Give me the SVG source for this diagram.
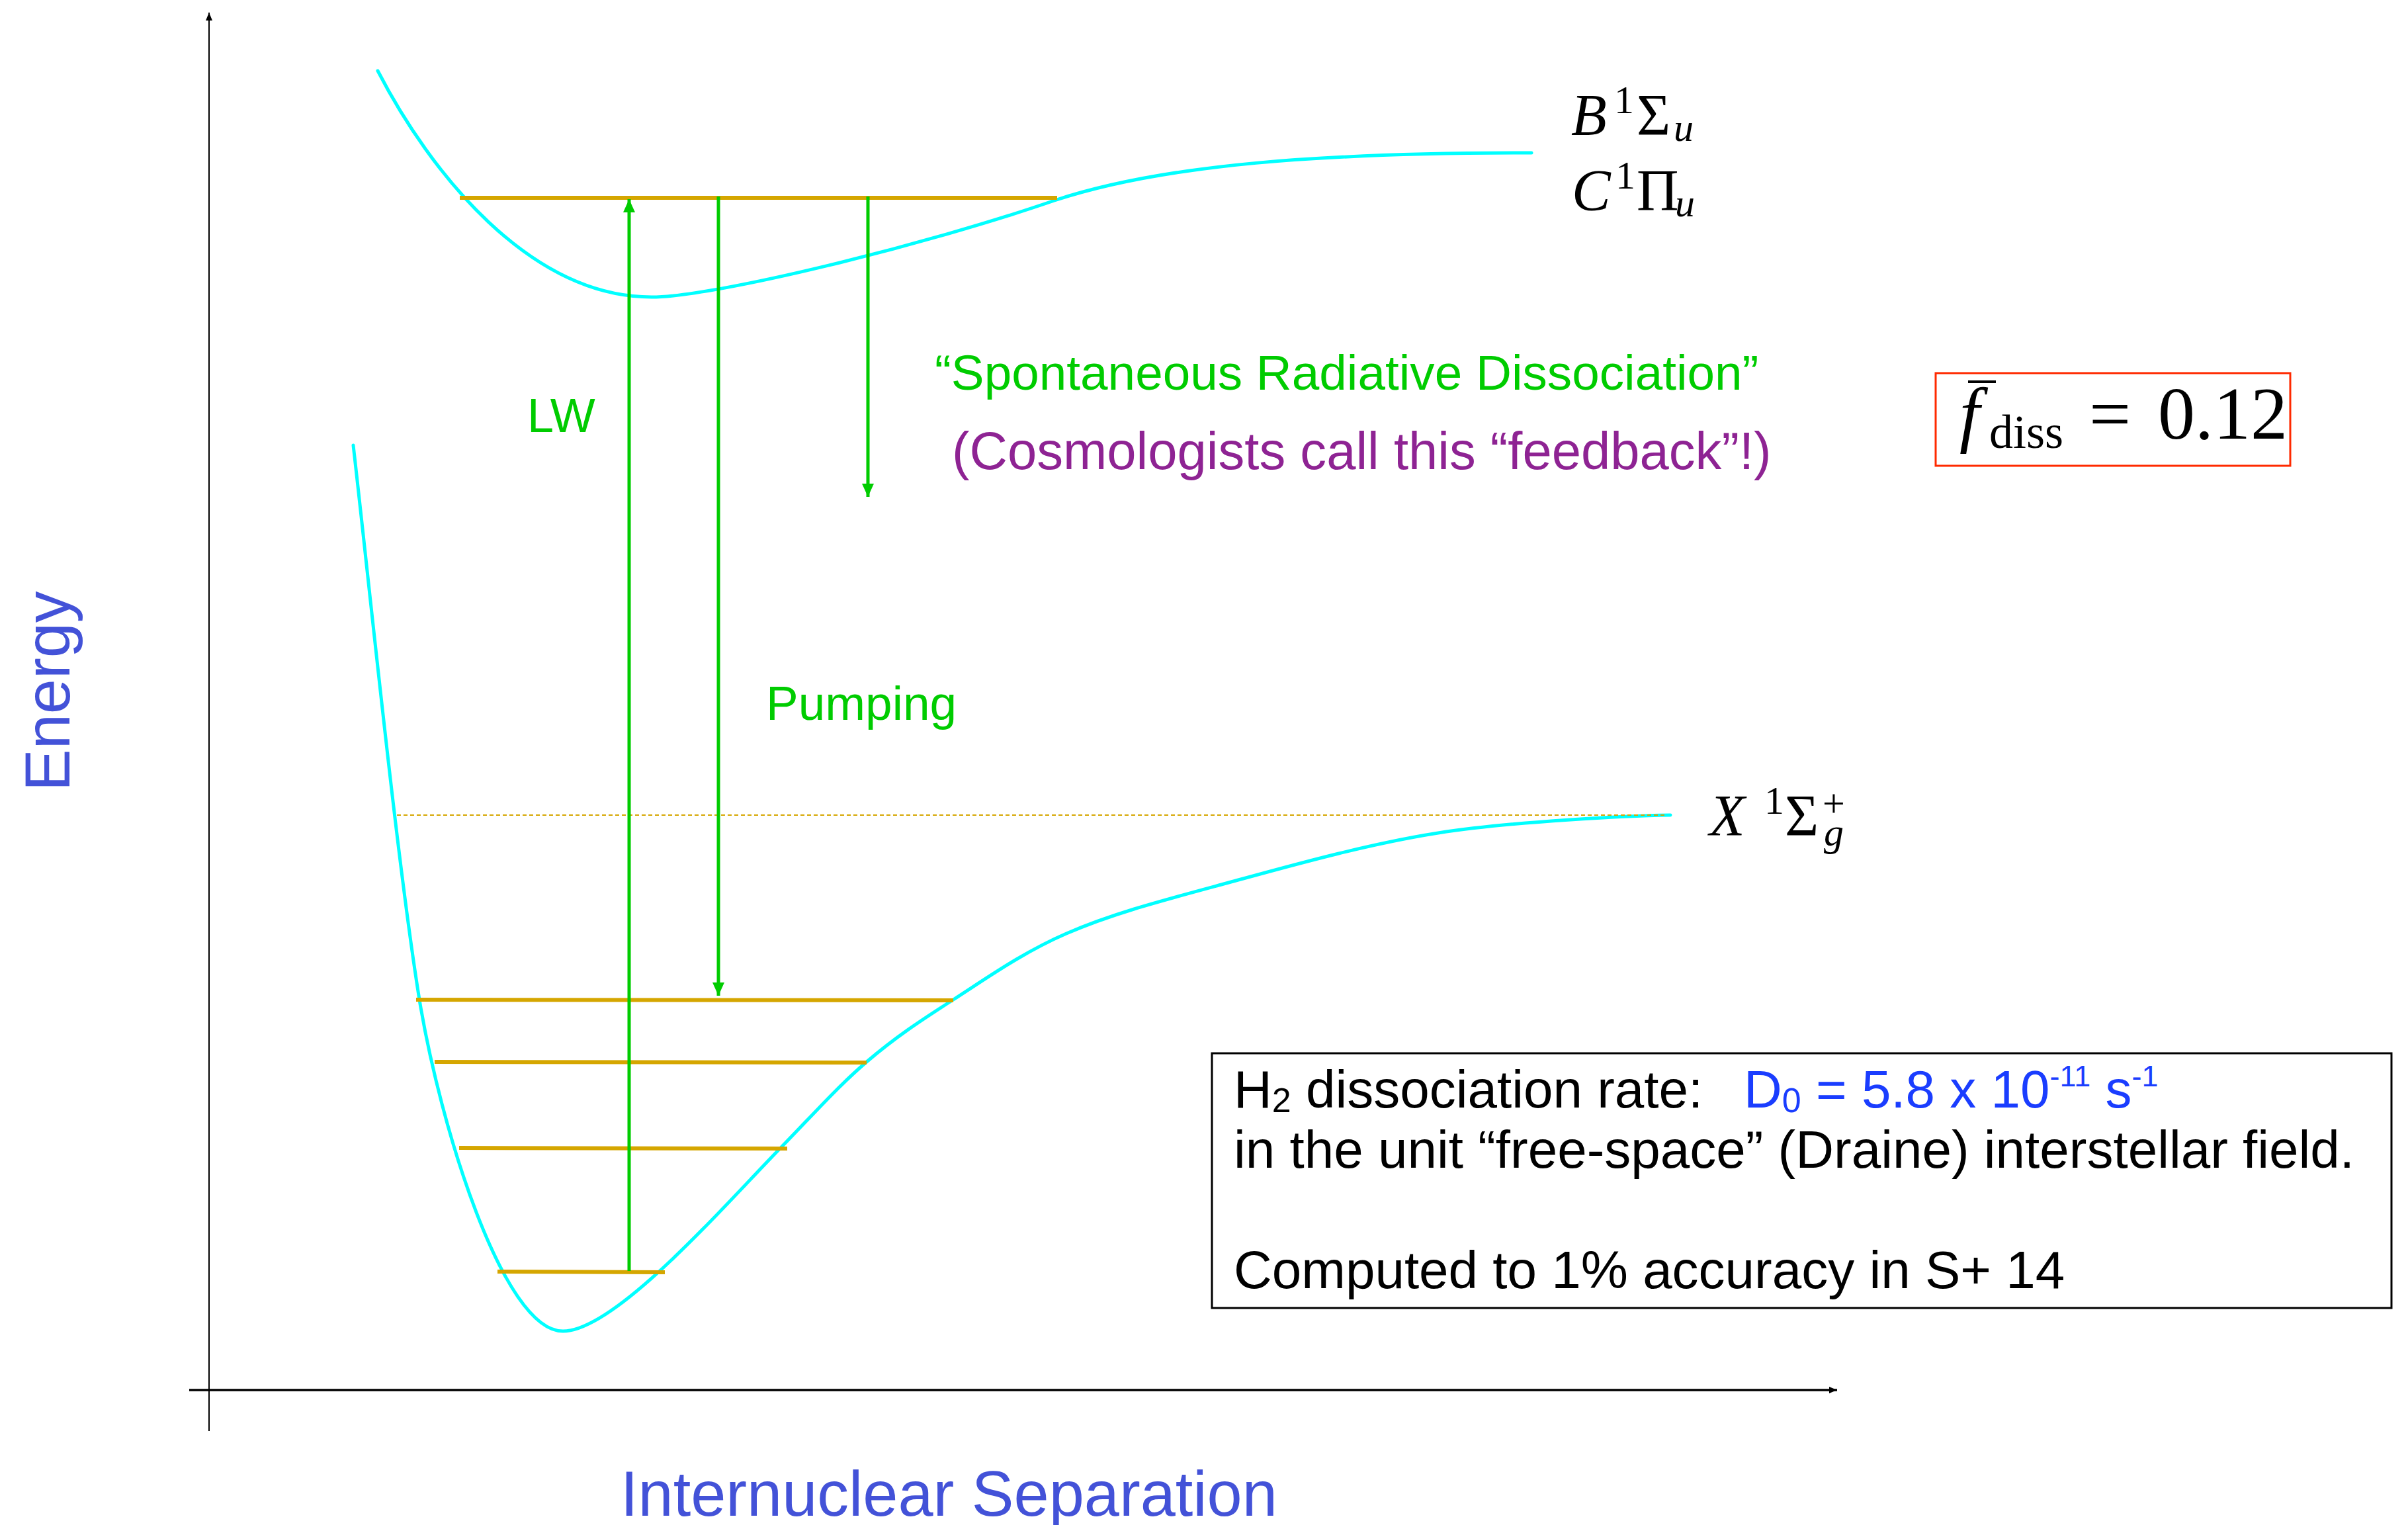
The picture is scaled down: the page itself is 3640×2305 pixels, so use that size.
<svg xmlns="http://www.w3.org/2000/svg" width="3640" height="2305" viewBox="0 0 3640 2305">
<defs>
<style>
.curve{fill:none;stroke:#00FFFF;stroke-width:5;stroke-linejoin:round;stroke-linecap:round}
.level{stroke:#D5A600;stroke-width:6;fill:none}
.dots{stroke:#D5A600;stroke-width:2;stroke-dasharray:6 4;fill:none}
.garrow{stroke:#00CC00;stroke-width:5;fill:none}
.axis{stroke:#000;fill:none}
.sans{font-family:"Liberation Sans",Arial,sans-serif}
.serif{font-family:"Liberation Serif","Times New Roman",serif}
.ital{font-style:italic}
.up{font-style:normal}
.green{fill:#00CC00}
.purple{fill:#8E2393}
.axlabel{fill:#4352D8;font-size:95.5px}
.box{font-size:80px;fill:#000}
.blue{fill:#1A3DFF}
.math{font-size:88px;fill:#000}
</style>
<marker id="garr" markerUnits="userSpaceOnUse" markerWidth="22" markerHeight="20" refX="20" refY="9" orient="auto" viewBox="0 0 22 20">
<path d="M0,0 L20,9 L0,18 z" fill="#00CC00"/>
</marker>
<marker id="karr" markerUnits="userSpaceOnUse" markerWidth="14" markerHeight="12" refX="12" refY="5" orient="auto" viewBox="0 0 14 12">
<path d="M0,0 L12,5 L0,10 z" fill="#000"/>
</marker>
</defs>
<rect width="3640" height="2305" fill="#fff"/>

<g id="axes">
<line class="axis" x1="316" y1="2163" x2="316" y2="19" stroke-width="2" marker-end="url(#karr)"/>
<line class="axis" x1="286" y1="2101" x2="2777" y2="2101" stroke-width="3.5" marker-end="url(#karr)"/>
<text class="sans axlabel" transform="translate(105,1196) rotate(-90)">Energy</text>
<text class="sans axlabel" x="938" y="2291">Internuclear Separation</text>
</g>

<g id="upper-state">
<path class="curve" d="M571,107 C650,260 800,449 985,449 C1080,449 1400,370 1594,303 C1760,248 2000,231 2315,231"/>
<line class="level" x1="695" y1="299" x2="1598" y2="299"/>
<g id="label-BC">
<text class="serif ital math" x="2375" y="203">B<tspan class="up" font-size="60" x="2440" y="171">1</tspan><tspan class="up" x="2474" y="203">Σ</tspan><tspan font-size="60" x="2530" y="213">u</tspan></text>
<text class="serif ital math" x="2376" y="317">C<tspan class="up" font-size="60" x="2442" y="285">1</tspan><tspan class="up" x="2474" y="317">Π</tspan><tspan font-size="60" x="2532" y="327">u</tspan></text>
</g>
</g>

<g id="ground-state">
<path class="curve" d="M534,673 C560,900 600,1300 634,1511 C665,1700 760,2012 851,2012 C930,2012 1095,1822 1180,1735 C1231.3,1682.2 1266.5,1642.3 1310,1605 C1353.5,1567.7 1390.7,1543.3 1441,1511 C1491.3,1478.7 1545.7,1439.7 1612,1411 C1678.3,1382.3 1745.3,1364.3 1839,1339 C1932.7,1313.7 2059.7,1276.8 2174,1259 C2288.3,1241.2 2466,1233 2525,1232"/>
<line class="dots" x1="600" y1="1232" x2="2520" y2="1232"/>
<line class="level" x1="629" y1="1511" x2="1441" y2="1512"/>
<line class="level" x1="657" y1="1605" x2="1310" y2="1606"/>
<line class="level" x1="694" y1="1735" x2="1190" y2="1736"/>
<line class="level" x1="752" y1="1922" x2="1005" y2="1923"/>
<g id="label-X">
<text class="serif ital math" x="2584" y="1262" font-size="92">X<tspan class="up" font-size="60" x="2667" y="1230">1</tspan><tspan class="up" font-size="88" x="2698" y="1262">Σ</tspan><tspan class="up" font-size="60" x="2755" y="1234">+</tspan><tspan font-size="60" x="2757" y="1278">g</tspan></text>
</g>
</g>

<g id="connectors">
<line class="garrow" x1="951" y1="1921" x2="951" y2="301" marker-end="url(#garr)"/>
<line class="garrow" x1="1086" y1="297" x2="1086" y2="1505" marker-end="url(#garr)"/>
<line class="garrow" x1="1312" y1="297" x2="1312" y2="751" marker-end="url(#garr)"/>
</g>

<g id="labels">
<text class="sans green" x="797" y="653" font-size="72">LW</text>
<text class="sans green" x="1158" y="1088" font-size="73">Pumping</text>
<text class="sans green" x="1413" y="589" font-size="74.7">“Spontaneous Radiative Dissociation”</text>
<text class="sans purple" x="1439" y="709" font-size="79.6">(Cosmologists call this “feedback”!)</text>
</g>

<g id="fdiss-box">
<rect x="2926" y="564" width="536" height="140" fill="none" stroke="#FF2A00" stroke-width="3"/>
<text class="serif ital" x="2962" y="663" font-size="110" fill="#000">f</text>
<line x1="2975" y1="577" x2="3017" y2="577" stroke="#000" stroke-width="4"/>
<text class="serif" x="3007" y="677" font-size="72" fill="#000">diss</text>
<text class="serif" x="3158" y="663" font-size="112" fill="#000">=</text>
<text class="serif" x="3262" y="663" font-size="112" fill="#000">0.12</text>
</g>

<g id="rate-box">
<rect x="1832" y="1592" width="1783" height="385" fill="none" stroke="#000" stroke-width="3"/>
<text class="sans box" x="1865" y="1674">H<tspan font-size="52" dy="7">2</tspan><tspan dy="-7"> dissociation rate:</tspan><tspan class="blue" x="2636">D</tspan><tspan class="blue" font-size="52" dy="7">0</tspan><tspan class="blue" dy="-7"> = 5.8 x 10</tspan><tspan class="blue" font-size="45" dy="-32">-11</tspan><tspan class="blue" dy="32"> s</tspan><tspan class="blue" font-size="45" dy="-32">-1</tspan></text>
<text class="sans box" x="1865" y="1765">in the unit “free-space” (Draine) interstellar field.</text>
<text class="sans box" x="1865" y="1947">Computed to 1% accuracy in S+ 14</text>
</g>
</svg>
